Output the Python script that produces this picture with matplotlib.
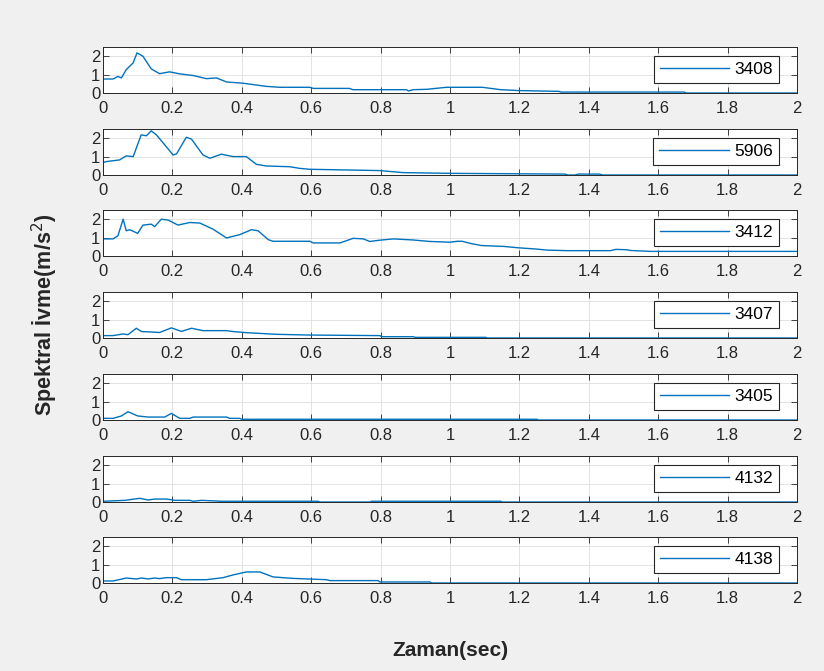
import numpy as np
import matplotlib.pyplot as plt
from matplotlib.ticker import FuncFormatter

plt.rcParams['font.family'] = ['Liberation Sans', 'DejaVu Sans']

# istasyon kodlari
labels = ['3408', '5906', '3412', '3407', '3405', '4132', '4138']

# okunan noktalar (zaman, spektral ivme)
t_3408 = [0, 0.029, 0.043, 0.053, 0.067, 0.087, 0.098, 0.115, 0.139, 0.163, 0.192, 0.221, 0.26, 0.298,
          0.327, 0.356, 0.404, 0.471, 0.51, 0.596, 0.606, 0.71, 0.72, 0.875, 0.88, 0.894, 0.933, 0.99,
          1.093, 1.146, 1.2, 1.314, 1.32, 1.675, 1.68, 2.0]
v_3408 = [0.76, 0.76, 0.9, 0.82, 1.27, 1.64, 2.18, 2.0, 1.31, 1.05, 1.15, 1.04, 0.95, 0.78,
          0.82, 0.6, 0.53, 0.36, 0.31, 0.31, 0.25, 0.25, 0.18, 0.18, 0.11, 0.18, 0.2, 0.31,
          0.31, 0.18, 0.13, 0.09, 0.05, 0.05, 0.0, 0.0]

t_5906 = [0, 0.01, 0.048, 0.067, 0.087, 0.11, 0.125, 0.139, 0.154, 0.202, 0.212, 0.24, 0.255, 0.288,
          0.308, 0.341, 0.375, 0.413, 0.442, 0.471, 0.538, 0.567, 0.596, 0.798, 0.865, 1.0, 1.33,
          1.34, 1.36, 1.37, 1.43, 1.44, 2.0]
v_5906 = [0.67, 0.73, 0.82, 1.04, 1.0, 2.18, 2.13, 2.4, 2.18, 1.09, 1.15, 2.05, 1.95, 1.09,
          0.91, 1.13, 1.0, 1.0, 0.58, 0.49, 0.45, 0.36, 0.31, 0.24, 0.13, 0.09, 0.05,
          0.0, 0.0, 0.05, 0.05, 0.0, 0.0]

t_3412 = [0, 0.029, 0.043, 0.058, 0.067, 0.077, 0.1, 0.115, 0.139, 0.149, 0.168, 0.188, 0.216, 0.25,
          0.279, 0.317, 0.356, 0.394, 0.428, 0.447, 0.476, 0.49, 0.596, 0.606, 0.683, 0.721, 0.75,
          0.769, 0.798, 0.837, 0.894, 0.942, 1.0, 1.021, 1.035, 1.06, 1.09, 1.156, 1.194, 1.247,
          1.28, 1.338, 1.463, 1.478, 1.51, 1.52, 1.579, 2.0]
v_3412 = [0.93, 0.93, 1.1, 2.0, 1.37, 1.43, 1.23, 1.68, 1.73, 1.6, 2.0, 1.95, 1.68, 1.82,
          1.79, 1.46, 0.98, 1.16, 1.43, 1.37, 0.89, 0.8, 0.8, 0.71, 0.71, 0.96, 0.93,
          0.79, 0.86, 0.93, 0.87, 0.79, 0.75, 0.8, 0.8, 0.68, 0.57, 0.52, 0.45, 0.38,
          0.32, 0.29, 0.29, 0.36, 0.34, 0.3, 0.25, 0.25]

t_3407 = [0, 0.029, 0.058, 0.072, 0.096, 0.111, 0.135, 0.163, 0.197, 0.226, 0.255, 0.288, 0.356, 0.375,
          0.413, 0.452, 0.5, 0.548, 0.596, 0.798, 0.803, 0.894, 0.9, 1.103, 1.108, 2.0]
v_3407 = [0.13, 0.13, 0.22, 0.18, 0.53, 0.35, 0.33, 0.3, 0.55, 0.36, 0.53, 0.4, 0.4, 0.35,
          0.29, 0.25, 0.2, 0.18, 0.16, 0.13, 0.07, 0.07, 0.035, 0.035, 0.0, 0.0]

t_3405 = [0, 0.029, 0.053, 0.072, 0.1, 0.13, 0.178, 0.197, 0.221, 0.25, 0.26, 0.356, 0.365, 0.394,
          0.4, 1.25, 1.255, 2.0]
v_3405 = [0.09, 0.09, 0.22, 0.45, 0.22, 0.16, 0.16, 0.36, 0.09, 0.09, 0.16, 0.16, 0.09, 0.09,
          0.04, 0.04, 0.0, 0.0]

t_4132 = [0, 0.063, 0.106, 0.13, 0.149, 0.183, 0.207, 0.25, 0.26, 0.284, 0.332, 0.337, 0.62, 0.625,
          0.77, 0.774, 1.146, 1.15, 2.0]
v_4132 = [0.04, 0.09, 0.2, 0.11, 0.16, 0.16, 0.09, 0.09, 0.04, 0.09, 0.05, 0.04, 0.04, 0.0,
          0.0, 0.04, 0.04, 0.0, 0.0]

t_4138 = [0, 0.029, 0.067, 0.096, 0.111, 0.13, 0.149, 0.163, 0.183, 0.212, 0.226, 0.298, 0.346, 0.375,
          0.413, 0.452, 0.49, 0.548, 0.644, 0.654, 0.793, 0.798, 0.942, 0.947, 2.0]
v_4138 = [0.11, 0.11, 0.27, 0.22, 0.27, 0.22, 0.27, 0.24, 0.29, 0.29, 0.18, 0.18, 0.29, 0.44,
          0.6, 0.6, 0.33, 0.25, 0.18, 0.13, 0.13, 0.055, 0.055, 0.0, 0.0]

series = [(t_3408, v_3408), (t_5906, v_5906), (t_3412, v_3412), (t_3407, v_3407),
          (t_3405, v_3405), (t_4132, v_4132), (t_4138, v_4138)]

W, H = 824, 671
fig = plt.figure(figsize=(W / 100, H / 100), dpi=100, facecolor='#f0f0f0')

left, right = 103, 797
tops = [47, 129, 210, 292, 374, 456, 537]
ah = 46
dark = '#262626'

for i, (t, v) in enumerate(series):
    ax = fig.add_axes([left / W, 1 - (tops[i] + ah) / H, (right - left) / W, ah / H])
    ax.plot(t, v, color='#0072BD', lw=1.0, label=labels[i])
    ax.set_xlim(0, 2)
    ax.set_ylim(0, 2.5)
    ax.set_xticks(np.arange(0, 2.01, 0.2))
    ax.set_yticks([0, 1, 2])
    ax.xaxis.set_major_formatter(FuncFormatter(lambda x, p: '%g' % round(x, 1)))
    ax.grid(True, color='#dedede', lw=0.6)
    ax.set_axisbelow(True)
    ax.tick_params(direction='in', top=True, right=True, length=4.5, width=0.6,
                   colors=dark, labelsize=12, pad=2)
    ax.tick_params(axis='x', pad=6)
    for s in ax.spines.values():
        s.set_color(dark)
        s.set_linewidth(0.7)
    leg = ax.legend(loc='upper right', bbox_to_anchor=(0.974, 0.81), borderaxespad=0,
                    fancybox=False, framealpha=1, edgecolor=dark, fontsize=12.5,
                    handlelength=4.0, borderpad=0.35, handletextpad=0.3)
    leg.get_frame().set_linewidth(0.8)

fig.text(45 / W, 1 - 315 / H, 'Spektral İvme(m/s$^2$)', rotation=90, ha='center', va='center',
         fontsize=15.5, fontweight='bold', color=dark)
fig.text(450 / W, 1 - 650 / H, 'Zaman(sec)', ha='center', va='center',
         fontsize=15, fontweight='bold', color=dark)

fig.savefig('out.png', dpi=100, facecolor=fig.get_facecolor())
